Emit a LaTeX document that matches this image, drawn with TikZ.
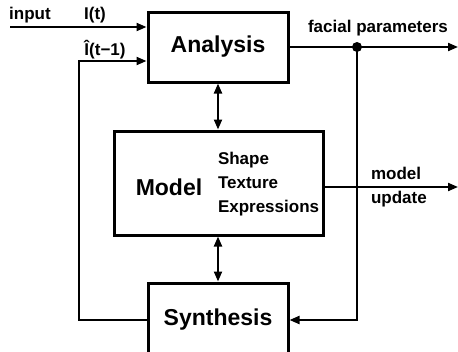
\documentclass[tikz,border=0pt]{standalone}
\usepackage{fontspec}
\setmainfont{Liberation Sans}
\usetikzlibrary{arrows.meta}

\begin{document}
\begin{tikzpicture}[x=1pt, y=-1pt, line width=2pt, >={Triangle[length=10pt,width=8pt]},
    block/.style = {draw, line width=3pt, font=\fontsize{23}{26}\selectfont\bfseries},
    lbl/.style = {font=\fontsize{17}{20}\selectfont\bfseries, inner sep=0pt}]
  \useasboundingbox (0,0) rectangle (458,351);
  % the three blocks
  \node[block, minimum width=140pt, minimum height=70pt] (ana) at (218,47) {Analysis};
  \node[block, minimum width=209pt, minimum height=104pt] (mod) at (218.5,183) {};
  \node[block, minimum width=140pt, minimum height=74pt] (syn) at (218,320) {Synthesis};
  \node[font=\fontsize{23}{26}\selectfont\bfseries, inner sep=0pt] (modname) at (169,187) {Model};
  \node[lbl, anchor=west, align=left] (modparts) at (217,184.5)
    {Shape\\[4pt]Texture\\[4pt]Expressions};
  % inputs
  \coordinate (in) at (10,27);
  \coordinate (fb) at (79,61);
  \coordinate (out) at (458,47);
  \coordinate (upd) at (458,187);
  \node[lbl] (inname) at (30,15) {input};
  \node[lbl] (it) at (95,15) {I(t)};
  \node[lbl] (itprev) at (105,50) {Î(t−1)};
  \draw[->] (in) -- (in -| ana.west);
  \draw[->] (syn.west) -| (fb) -- (fb -| ana.west);
  % outputs
  \draw[->] (ana.east) -- (out);
  \node[lbl] (facial) at (378,28) {facial parameters};
  \fill (357,47) circle (5pt) coordinate (dot);
  \draw[->] (dot) |- (syn.east);
  \draw[->] (mod.east |- upd) -- (upd);
  \node[lbl, anchor=west, align=left] (update) at (370,187) {model\\[4pt]update};
  % links to the model
  \draw[<->] (ana.south) -- (mod.north -| ana.south);
  \draw[<->] (mod.south -| syn.north) -- (syn.north);
\end{tikzpicture}
\end{document}
